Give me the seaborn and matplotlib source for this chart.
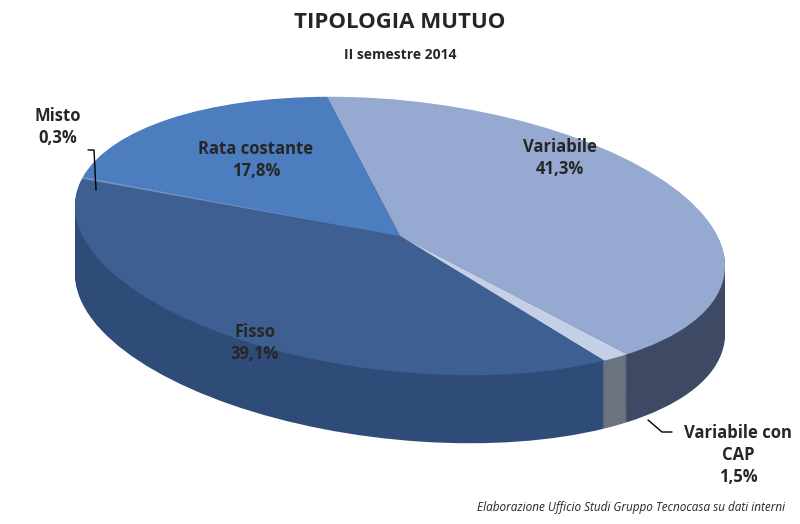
import numpy as np
import matplotlib
matplotlib.use("Agg")
import matplotlib.pyplot as plt
import matplotlib.transforms as mtransforms
import seaborn as sns

# data (clockwise from the top)
labels = ["Variabile", "Variabile con CAP", "Fisso", "Misto", "Rata costante"]
shares = [41.3, 1.5, 39.1, 0.3, 17.8]
top_colors = ["#95a9d1", "#c3d0e6", "#3d5f91", "#6f8fc4", "#4b7dbf"]
side_colors = ["#3e4a63", "#6b7280", "#2f4c78", "#3c5f93", "#3e6aa5"]

sns.set_style("white")
plt.rcParams['font.family'] = ['Open Sans', 'DejaVu Sans']

W, H = 800, 524
fig = plt.figure(figsize=(8, 5.24), dpi=100)
ax = fig.add_axes([75 / W, (H - 372) / H, 650 / W, 272 / H])

# slight tilt: right side lower than left
tilt = mtransforms.Affine2D(np.array([[1, 0, 0], [-0.22, 1, 0], [0, 0, 1]]))

depth = 0.5
layers = list(np.linspace(depth, 0.005, 45)) + [0]
for i, k in enumerate(layers):
    cols = top_colors if k == 0 else side_colors
    w, _ = ax.pie(shares, colors=cols, startangle=103, counterclock=False,
                  center=(0, -k), radius=1, frame=True,
                  wedgeprops=dict(linewidth=0))
    for p in w:
        p.set_transform(tilt + ax.transData)
        p.set_clip_on(False)
ax.set_xlim(-1, 1)
ax.set_ylim(-1, 1)
ax.set_aspect("auto")
ax.axis("off")

def ftxt(x, y, s, **kw):
    fig.text(x / W, 1 - y / H, s, **kw)

bold = dict(ha="center", va="center", fontsize=12, fontweight="bold", linespacing=1.3)
ftxt(400, 22, "TIPOLOGIA MUTUO", ha="center", va="center", fontsize=16, fontweight="bold")
ftxt(400, 55, "II semestre 2014", ha="center", va="center", fontsize=10, fontweight="bold")
ftxt(560, 158, "Variabile\n41,3%", **bold)
ftxt(256, 160, "Rata costante\n17,8%", **bold)
ftxt(255, 343, "Fisso\n39,1%", **bold)
ftxt(58, 127, "Misto\n0,3%", **bold)
ftxt(738, 455, "Variabile con\nCAP\n1,5%", **bold)
ftxt(785, 508, "Elaborazione Ufficio Studi Gruppo Tecnocasa su dati interni",
     ha="right", va="center", fontsize=8.5, style="italic")

# leader lines
fig.add_artist(plt.Line2D([88 / W, 94 / W, 96 / W], [1 - 150 / H, 1 - 150 / H, 1 - 190 / H],
                          color="black", lw=1))
fig.add_artist(plt.Line2D([648 / W, 662 / W, 672 / W], [1 - 420 / H, 1 - 432 / H, 1 - 432 / H],
                          color="black", lw=1))

fig.savefig("out.png", dpi=100)
